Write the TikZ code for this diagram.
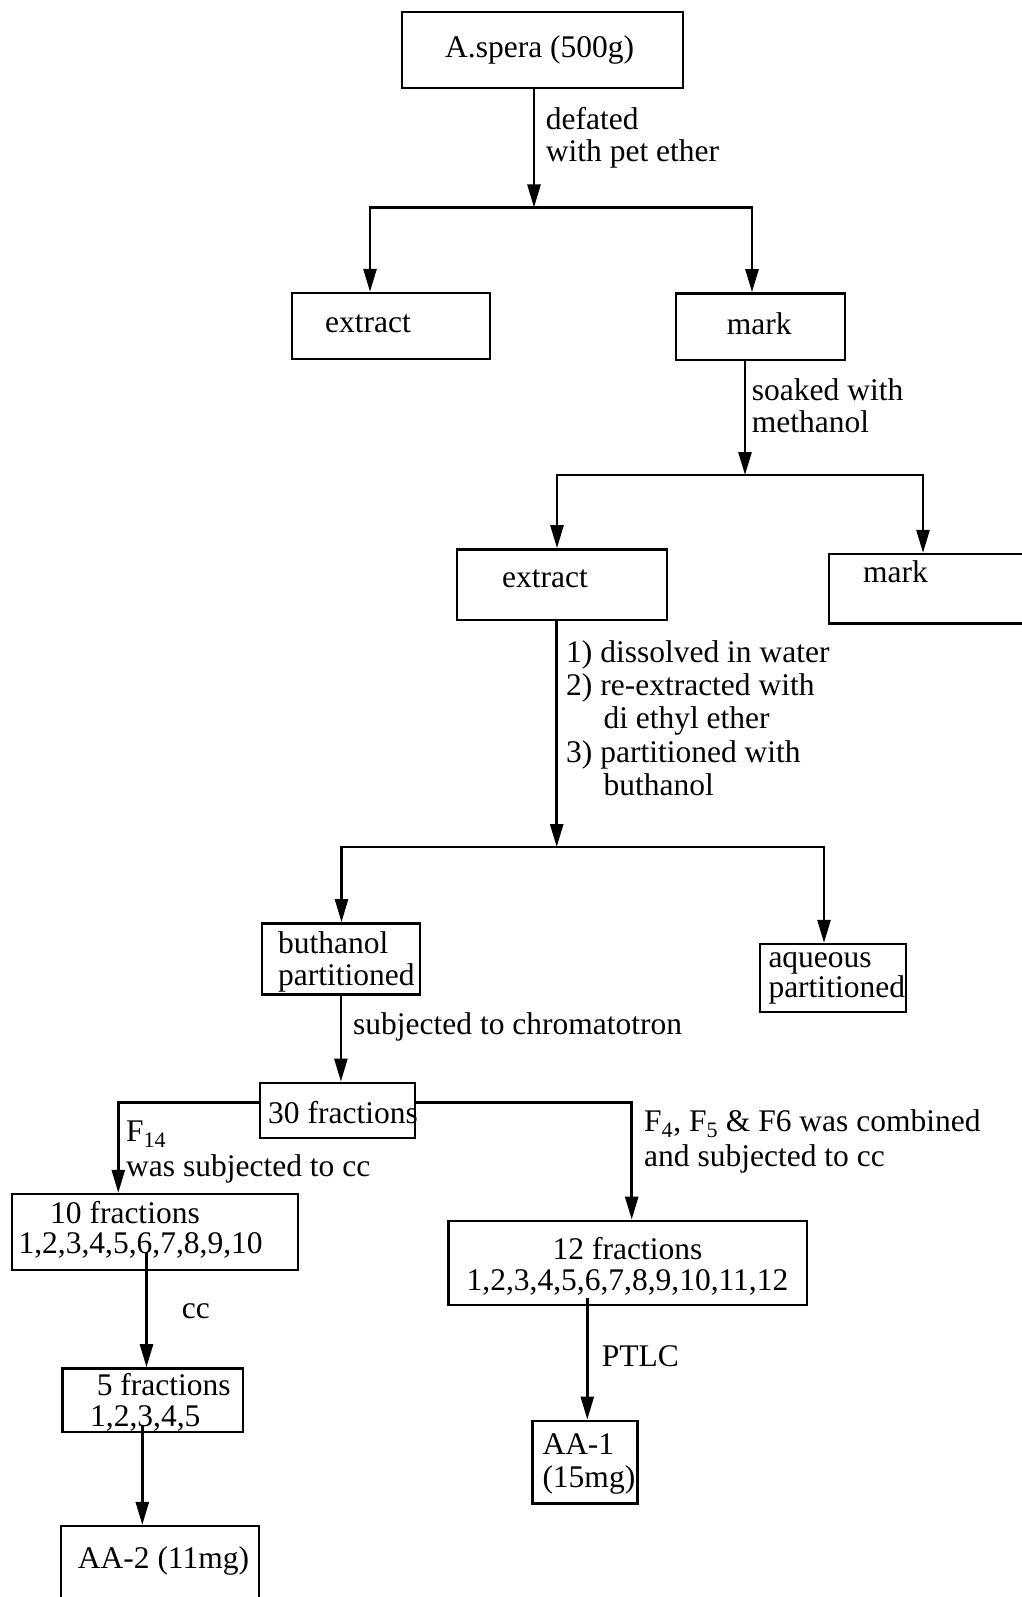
\documentclass[tikz,border=0pt]{standalone}
\usepackage{fontspec}
\setmainfont{Liberation Serif}
\usetikzlibrary{arrows.meta}
\newcommand{\flowfont}{\fontsize{31.5}{32.6}\selectfont}

\begin{document}
\begin{tikzpicture}[x=1pt,y=-1pt,font=\flowfont,
  box/.style={draw,line width=2.4pt,inner sep=0pt},
  lbl/.style={anchor=north west,inner sep=0pt,align=left,yshift=22.82pt},
  arr/.style={line width=2.6pt,-{Triangle[length=23pt,width=13pt]}}]
\useasboundingbox (0,0) rectangle (1021,1597);
% Boxes
\node[box,minimum width=281pt,minimum height=76pt] (spera) at (542.5,50) {};
\node[box,minimum width=198pt,minimum height=66pt] (ext1) at (391,326) {};
\node[box,minimum width=169pt,minimum height=66.7pt] (mark1) at (760.5,326.7) {};
\node[box,minimum width=210pt,minimum height=70.7pt] (ext2) at (561.7,584.7) {};
\node[box,minimum width=211pt,minimum height=69.3pt] (mark2) at (934.5,588.7) {};
\node[box,minimum width=158.3pt,minimum height=71pt] (buth) at (340.9,958.8) {};
\node[box,minimum width=145.7pt,minimum height=67.7pt] (aq) at (832.9,977.9) {};
\node[box,minimum width=155pt,minimum height=55.3pt] (thirty) at (337.5,1110.4) {};
\node[box,minimum width=286pt,minimum height=76pt] (ten) at (154.7,1232) {};
\node[box,minimum width=358.4pt,minimum height=84.3pt] (twelve) at (627.5,1262.9) {};
\node[box,minimum width=180.4pt,minimum height=63.7pt] (five) at (152.5,1400.2) {};
\node[box,minimum width=105pt,minimum height=82.6pt] (aa1) at (584.8,1462) {};
\node[box,minimum width=197.7pt,minimum height=94pt] (aa2) at (159.9,1573) {};
% Box texts
\node[lbl] (spera-t) at (445,57) {\strut A.spera (500g)};
\node[lbl] (ext1-t) at (325,332) {\strut extract};
\node[lbl] (mark1-t) at (726.7,334.3) {\strut mark};
\node[lbl] (ext2-t) at (502,587.7) {\strut extract};
\node[lbl] (mark2-t) at (863,582.7) {\strut mark};
\node[lbl] (buth-t) at (278,953.7) {\strut buthanol\\[-1pt]partitioned};
\node[lbl] (aq-t) at (768.3,967.3) {\strut aqueous\\[-3pt]partitioned};
\node[lbl] (thirty-t) at (268,1123) {\strut 30 fractions};
\node[lbl] (ten-t) at (18.3,1223) {\strut\hspace*{31.7pt}10 fractions\\[-2.6pt]1,2,3,4,5,6,7,8,9,10};
\node[lbl,anchor=north,align=center] (twelve-t) at (627.5,1259) {\strut 12 fractions\\[-1.6pt]1,2,3,4,5,6,7,8,9,10,11,12};
\node[lbl] (five-t) at (90,1395) {\strut\hspace*{6.7pt}5 fractions\\[-1.5pt]1,2,3,4,5};
\node[lbl] (aa1-t) at (542.3,1454.5) {\strut AA-1\\(15mg)};
\node[lbl] (aa2-t) at (77.7,1568) {\strut AA-2 (11mg)};
% Step labels
\node[lbl] (defat) at (545.7,129.5) {\strut defated\\[-1pt]with pet ether};
\node[lbl] (soak) at (751.7,400.3) {\strut soaked with\\[-1pt]methanol};
\node[lbl] (steps) at (566,662.5) {\strut 1) dissolved in water\\[0.5pt]2) re-extracted with\\[0.5pt]\hspace*{37.3pt}di ethyl ether\\[0.5pt]3) partitioned with\\[0.5pt]\hspace*{37.3pt}buthanol};
\node[lbl] (chrom) at (353,1034) {\strut subjected to chromatotron};
\node[lbl] (f14) at (126,1141) {\strut F\textsubscript{14}\\[3.1pt]was subjected to cc};
\node[lbl] (f456) at (644,1131) {\strut F\textsubscript{4}, F\textsubscript{5} \& F6 was combined\\[3pt]and subjected to cc};
\node[lbl] (cc) at (181.7,1318) {\strut cc};
\node[lbl] (ptlc) at (601.7,1366) {\strut PTLC};
% Junctions
\coordinate (j1) at (534,207.5);
\coordinate (j1L) at (370,207.5);
\coordinate (j1R) at (752,207.5);
\coordinate (j2) at (745,475);
\coordinate (j2L) at (557,475);
\coordinate (j2R) at (923,475);
\coordinate (j3) at (556.7,847);
\coordinate (j3L) at (341.5,847);
\coordinate (j3R) at (824,847);
\coordinate (fL) at (118.3,1102.7);
\coordinate (fR) at (631.7,1102.7);
\coordinate (tenout) at (146.5,1253);
\coordinate (fiveout) at (142.3,1426);
\coordinate (twelveout) at (587.3,1298);
% Connectors
\draw[arr] (spera.south -| j1) -- (j1);
\draw[arr] (j1) -- (j1L) -- (ext1.north -| j1L);
\draw[arr] (j1) -- (j1R) -- (mark1.north -| j1R);
\draw[arr] (mark1.south -| j2) -- (j2);
\draw[arr] (j2) -- (j2L) -- (ext2.north -| j2L);
\draw[arr] (j2) -- (j2R) -- (mark2.north -| j2R);
\draw[arr] (ext2.south -| j3) -- (j3);
\draw[arr] (j3) -- (j3L) -- (buth.north -| j3L);
\draw[arr] (j3) -- (j3R) -- (aq.north -| j3R);
\draw[arr] (buth.south) -- (buth.south |- thirty.north);
\draw[arr] (thirty.west |- fL) -- (fL) -- (ten.north -| fL);
\draw[arr] (thirty.east |- fR) -- (fR) -- (twelve.north -| fR);
\draw[arr] (tenout) -- (five.north -| tenout);
\draw[arr] (fiveout) -- (aa2.north -| fiveout);
\draw[arr] (twelveout) -- (aa1.north -| twelveout);
\end{tikzpicture}
\end{document}
